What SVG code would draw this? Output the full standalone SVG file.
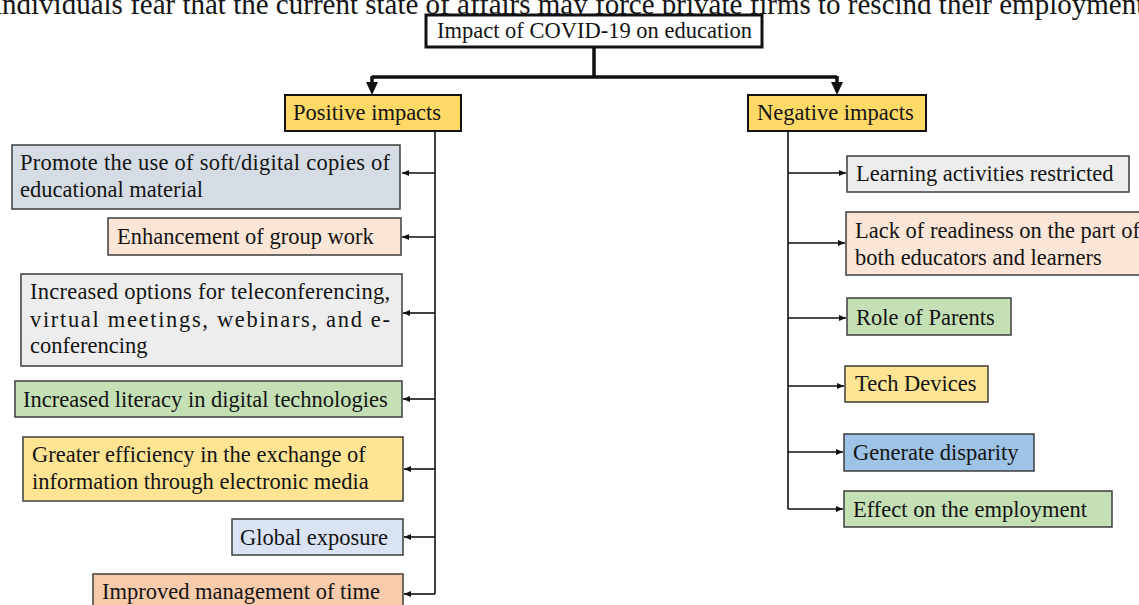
<svg xmlns="http://www.w3.org/2000/svg" width="1139" height="605" viewBox="0 0 1139 605">
<defs>
<style>
text{font-family:"Liberation Serif","Times New Roman",serif;font-size:22.5px;fill:#141414}
.n{stroke:#3c3c3c;stroke-width:1.5}
.h{stroke:#111;stroke-width:2;fill:#FFD966}
.c{stroke:#111;stroke-width:1.6;fill:none}
.m{stroke:#111;stroke-width:3.5;fill:none}
.ah{fill:#111}
</style>
<marker id="a" markerUnits="userSpaceOnUse" markerWidth="8" markerHeight="7" refX="7" refY="3" orient="auto"><path d="M0,0 L7,3 L0,6 z" fill="#111"/></marker>
</defs>
<rect width="1139" height="605" fill="#fff"/>
<text x="-6" y="14" style="font-size:29px">individuals fear that the current state of affairs may force private firms to rescind their employment</text>

<g id="connectors">
<path class="m" d="M594,47 V77 M372,77 H837"/>
<path class="m" d="M372,76 V84"/>
<path class="m" d="M837,76 V84"/>
<polygon class="ah" points="366,82 378,82 372,95"/>
<polygon class="ah" points="831,82 843,82 837,95"/>
<path class="c" d="M435,131 V594"/>
<path class="c" d="M435,173 H402" marker-end="url(#a)"/>
<path class="c" d="M435,237 H402" marker-end="url(#a)"/>
<path class="c" d="M435,313 H403" marker-end="url(#a)"/>
<path class="c" d="M435,399 H403" marker-end="url(#a)"/>
<path class="c" d="M435,469 H404" marker-end="url(#a)"/>
<path class="c" d="M435,537 H404" marker-end="url(#a)"/>
<path class="c" d="M435,594 H404" marker-end="url(#a)"/>
<path class="c" d="M788,131 V509"/>
<path class="c" d="M788,173 H846" marker-end="url(#a)"/>
<path class="c" d="M788,243 H845" marker-end="url(#a)"/>
<path class="c" d="M788,318 H846" marker-end="url(#a)"/>
<path class="c" d="M788,386 H844" marker-end="url(#a)"/>
<path class="c" d="M788,452 H843" marker-end="url(#a)"/>
<path class="c" d="M788,509 H843" marker-end="url(#a)"/>
</g>

<g id="title"><rect x="426" y="15" width="336" height="32" fill="#fff" stroke="#111" stroke-width="3"/><text x="437" y="38">Impact of COVID-19 on education</text></g>
<g id="positive"><rect class="h" x="285" y="95" width="176" height="36"/><text x="293" y="120">Positive impacts</text></g>
<g id="negative"><rect class="h" x="748" y="95" width="178" height="36"/><text x="757" y="120">Negative impacts</text></g>

<g id="p1"><rect class="n" x="12" y="145" width="388" height="64" fill="#D6DCE4"/><text x="20" y="170" textLength="370" lengthAdjust="spacing">Promote the use of soft/digital copies of</text><text x="20" y="197">educational material</text></g>
<g id="p2"><rect class="n" x="108" y="218" width="293" height="37" fill="#FBE5D6"/><text x="117" y="244">Enhancement of group work</text></g>
<g id="p3"><rect class="n" x="21" y="274" width="381" height="92" fill="#EDEDED"/><text x="30" y="299" textLength="360" lengthAdjust="spacing">Increased options for teleconferencing,</text><text x="30" y="327" textLength="360" lengthAdjust="spacing">virtual meetings, webinars, and e-</text><text x="30" y="353">conferencing</text></g>
<g id="p4"><rect class="n" x="15" y="381" width="387" height="36" fill="#C5E0B4"/><text x="23" y="407">Increased literacy in digital technologies</text></g>
<g id="p5"><rect class="n" x="23" y="437" width="380" height="64" fill="#FFE493"/><text x="32" y="462">Greater efficiency in the exchange of</text><text x="32" y="489">information through electronic media</text></g>
<g id="p6"><rect class="n" x="232" y="519" width="171" height="36" fill="#DAE3F3"/><text x="240" y="545">Global exposure</text></g>
<g id="p7"><rect class="n" x="93" y="574" width="310" height="40" fill="#F8CBAD"/><text x="102" y="599">Improved management of time</text></g>

<g id="n1"><rect class="n" x="847" y="156" width="282" height="36" fill="#EDEDED"/><text x="856" y="181">Learning activities restricted</text></g>
<g id="n2"><rect class="n" x="846" y="212" width="300" height="63" fill="#FBE5D6"/><text x="855" y="238">Lack of readiness on the part of</text><text x="855" y="265">both educators and learners</text></g>
<g id="n3"><rect class="n" x="847" y="298" width="164" height="37" fill="#C5E0B4"/><text x="856" y="325">Role of Parents</text></g>
<g id="n4"><rect class="n" x="845" y="366" width="143" height="36" fill="#FFE493"/><text x="855" y="391">Tech Devices</text></g>
<g id="n5"><rect class="n" x="844" y="434" width="190" height="37" fill="#9DC3E6"/><text x="853" y="460">Generate disparity</text></g>
<g id="n6"><rect class="n" x="844" y="491" width="268" height="36" fill="#C5E0B4"/><text x="853" y="517">Effect on the employment</text></g>
</svg>
